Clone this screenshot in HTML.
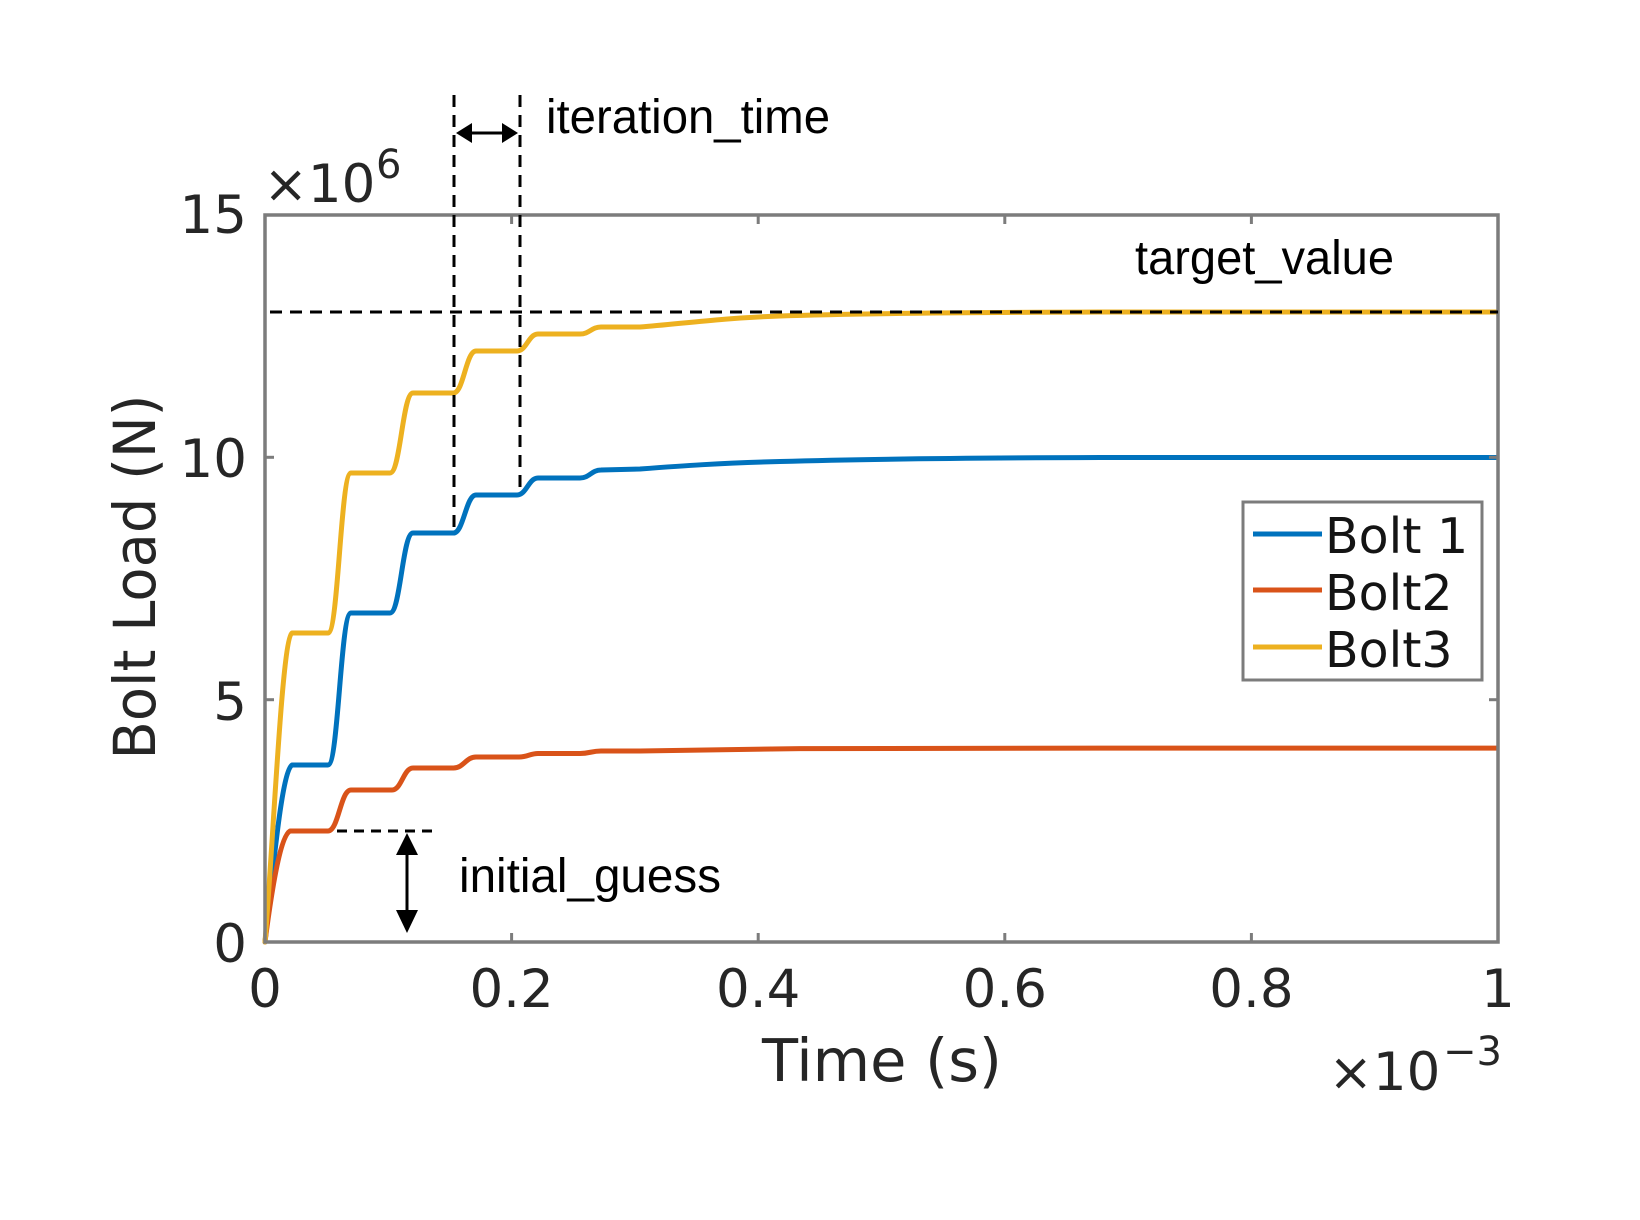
<!DOCTYPE html>
<html>
<head>
<meta charset="utf-8">
<style>
  html, body { margin: 0; padding: 0; background: #ffffff; }
  svg { display: block; }
  .tick { font-family: "DejaVu Sans", "Liberation Sans", sans-serif; font-size: 53px; fill: #262626; }
  .lab { font-family: "DejaVu Sans", "Liberation Sans", sans-serif; fill: #262626; }
  .ann { font-family: "Liberation Sans", "DejaVu Sans", sans-serif; font-size: 48px; fill: #000; }
  .leg { font-family: "DejaVu Sans", "Liberation Sans", sans-serif; font-size: 49px; fill: #141414; }
</style>
</head>
<body>
<svg width="1640" height="1220" viewBox="0 0 1640 1220" xmlns="http://www.w3.org/2000/svg">
  <rect x="0" y="0" width="1640" height="1220" fill="#ffffff"/>

  <!-- series -->
  <g fill="none" stroke-width="5" stroke-linejoin="round" stroke-linecap="round">
    <path stroke="#0072BD" d="M265,942 C274,860 282,772 292,765 L328,765 C338.5,765 340.5,613 351,613 L390,613 C400.5,613 402.5,533 413,533 L453.5,533 C463.5,533 466,495 476,495 L517,495 C526.5,495 528.5,478 538,478 L580,478 C589.5,478 591.5,470 601,470 L640,469 C680,466 720,463 780,461.5 C850,459.5 950,458 1100,457.5 L1497,457.5"/>
    <path stroke="#D95319" d="M265,942 C273,880 281,836 290,831 L328,831 C338.5,831 340.5,790 351,790 L392,790 C401.5,790 403.5,768 413,768 L453.5,768 C463.5,768 466,757 476,757 L519,757 C528,757 530,753.5 538,753.5 L580,753.5 C589.5,753.5 591.5,751 601,751 L640,751 C690,750 740,749 800,748.6 C900,748.3 1000,748.2 1100,748.1 L1497,748.1"/>
    <path stroke="#EDB120" d="M265,942 C274,830 282,640 292,633 L328,633 C338.5,633 340.5,473 351,473 L390,473 C400.5,473 402.5,393 413,393 L453.5,393 C463.5,393 466,351 476,351 L517,351 C526.5,351 528.5,334 538,334 L580,334 C589.5,334 591.5,327 601,327 L640,327 C680,324 720,318 780,316 C850,313.5 950,312.5 1100,312 L1497,312"/>
  </g>

  <!-- axes box -->
  <rect x="265" y="215" width="1233" height="727" fill="none" stroke="#7c7c7c" stroke-width="3.5"/>
  <!-- ticks -->
  <g stroke="#7c7c7c" stroke-width="3">
    <line x1="511.6" y1="942" x2="511.6" y2="933"/>
    <line x1="758.2" y1="942" x2="758.2" y2="933"/>
    <line x1="1004.8" y1="942" x2="1004.8" y2="933"/>
    <line x1="1251.4" y1="942" x2="1251.4" y2="933"/>
    <line x1="511.6" y1="215" x2="511.6" y2="224"/>
    <line x1="758.2" y1="215" x2="758.2" y2="224"/>
    <line x1="1004.8" y1="215" x2="1004.8" y2="224"/>
    <line x1="1251.4" y1="215" x2="1251.4" y2="224"/>
    <line x1="265" y1="457.3" x2="274" y2="457.3"/>
    <line x1="265" y1="699.7" x2="274" y2="699.7"/>
    <line x1="1498" y1="457.3" x2="1489" y2="457.3"/>
    <line x1="1498" y1="699.7" x2="1489" y2="699.7"/>
  </g>

  <!-- tick labels -->
  <g class="tick" text-anchor="middle">
    <text x="265" y="1007">0</text>
    <text x="511.6" y="1007">0.2</text>
    <text x="758.2" y="1007">0.4</text>
    <text x="1004.8" y="1007">0.6</text>
    <text x="1251.4" y="1007">0.8</text>
    <text x="1498" y="1007">1</text>
  </g>
  <g class="tick" text-anchor="end">
    <text x="247" y="233">15</text>
    <text x="247" y="477">10</text>
    <text x="247" y="720">5</text>
    <text x="247" y="962">0</text>
  </g>

  <!-- exponent labels -->
  <text class="tick" x="263.5" y="202">×10</text>
  <text class="tick" x="376" y="178" style="font-size:40px">6</text>
  <text class="tick" x="1328.5" y="1090">×10</text>
  <text class="tick" x="1443" y="1065" style="font-size:40px">−3</text>

  <!-- axis labels -->
  <text class="lab" x="882" y="1081" text-anchor="middle" style="font-size:59px">Time (s)</text>
  <text class="lab" transform="translate(155,577) rotate(-90)" x="0" y="0" text-anchor="middle" style="font-size:58px" textLength="365" lengthAdjust="spacingAndGlyphs">Bolt Load (N)</text>

  <!-- target dashed line -->
  <line x1="270" y1="312" x2="1498" y2="312" stroke="#000" stroke-width="3" stroke-dasharray="12 8"/>
  <!-- iteration dashed vertical lines -->
  <line x1="454" y1="95" x2="454" y2="530" stroke="#000" stroke-width="3" stroke-dasharray="12 8"/>
  <line x1="520" y1="95" x2="520" y2="490" stroke="#000" stroke-width="3" stroke-dasharray="12 8"/>
  <!-- iteration arrow -->
  <line x1="466" y1="133" x2="508" y2="133" stroke="#000" stroke-width="3"/>
  <polygon points="456,133 472,123 472,143" fill="#000"/>
  <polygon points="518,133 502,123 502,143" fill="#000"/>

  <!-- initial guess -->
  <line x1="337" y1="831" x2="433" y2="831" stroke="#000" stroke-width="3" stroke-dasharray="10 7"/>
  <line x1="407" y1="845" x2="407" y2="920" stroke="#000" stroke-width="3"/>
  <polygon points="407,833 396,855 418,855" fill="#000"/>
  <polygon points="407,933 396,910 418,910" fill="#000"/>

  <!-- annotations -->
  <text class="ann" x="546" y="133" textLength="284" lengthAdjust="spacingAndGlyphs">iteration_time</text>
  <text class="ann" x="1135" y="274" textLength="259" lengthAdjust="spacingAndGlyphs">target_value</text>
  <text class="ann" x="459" y="892" textLength="262" lengthAdjust="spacingAndGlyphs">initial_guess</text>

  <!-- legend -->
  <rect x="1243" y="502" width="239" height="178" fill="#ffffff" stroke="#7c7c7c" stroke-width="3"/>
  <line x1="1253" y1="534" x2="1322" y2="534" stroke="#0072BD" stroke-width="5"/>
  <line x1="1253" y1="590" x2="1322" y2="590" stroke="#D95319" stroke-width="5"/>
  <line x1="1253" y1="647" x2="1322" y2="647" stroke="#EDB120" stroke-width="5"/>
  <text class="leg" x="1325" y="553">Bolt 1</text>
  <text class="leg" x="1325" y="610">Bolt2</text>
  <text class="leg" x="1325" y="667">Bolt3</text>
</svg>
</body>
</html>
